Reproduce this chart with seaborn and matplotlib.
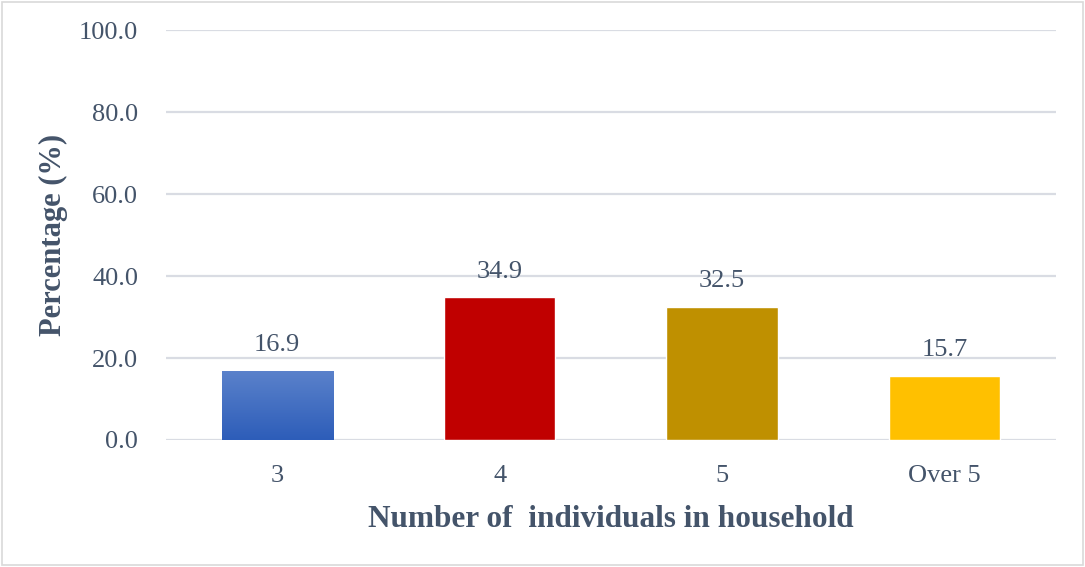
import numpy as np
import pandas as pd
import seaborn as sns
import matplotlib.pyplot as plt
from matplotlib.patches import Rectangle
from matplotlib.colors import LinearSegmentedColormap

# Data
categories = ['3', '4', '5', 'Over 5']
percentages = [16.9, 34.9, 32.5, 15.7]
bar_colors = ['#3A66C0', '#C00000', '#BF9000', '#FFC000']
y_ticks = [0, 20, 40, 60, 80, 100]

sns.set_theme(style="white")
plt.rcParams['font.family'] = ['Liberation Serif', 'DejaVu Serif']
text_color = '#44546A'

df = pd.DataFrame({'size': categories, 'pct': percentages})

fig = plt.figure(figsize=(10.85, 5.67), dpi=100)
ax = fig.add_axes([0.153, 0.224, 0.82, 0.723])

sns.barplot(data=df, x='size', y='pct', hue='size', palette=bar_colors,
            width=0.5, saturation=1, legend=False, ax=ax, zorder=3)

# gradient fill on the first (blue) bar
first = ax.patches[0]
grad = np.linspace(0, 1, 256).reshape(-1, 1)
cmap = LinearSegmentedColormap.from_list('blu', ['#2D5DB9', '#5B82CB'])
x0, y0 = first.get_x(), first.get_y()
w, h = first.get_width(), first.get_height()
img = ax.imshow(grad, extent=[x0, x0 + w, y0, y0 + h], origin='lower',
                cmap=cmap, aspect='auto', zorder=4)
img.set_clip_path(first)
ax.set_xlim(-0.5, 3.5)

ax.set_ylim(0, 100)
ax.set_yticks(y_ticks)
ax.set_yticklabels([f'{v:.1f}' for v in y_ticks])
ax.yaxis.grid(True, color='#D9DCE3', linewidth=1.6, zorder=0)
for s in ax.spines.values():
    s.set_visible(False)
ax.tick_params(axis='both', length=0, labelsize=19, labelcolor=text_color)
ax.tick_params(axis='x', pad=18)
ax.tick_params(axis='y', pad=20)

for p, v in zip(ax.patches, percentages):
    ax.text(p.get_x() + p.get_width() / 2, v + 3.5, f'{v:.1f}',
            ha='center', va='bottom', fontsize=19, color=text_color, zorder=5)

ax.set_xlabel('Number of  individuals in household', fontsize=22.5,
              fontweight='bold', color=text_color, labelpad=13)
ax.set_ylabel('Percentage (%)', fontsize=22, fontweight='bold',
              color=text_color, labelpad=8)

fig.patches.append(Rectangle((0.002, 0.003), 0.996, 0.994, transform=fig.transFigure,
                             fill=False, edgecolor='#D9D9D9', linewidth=1.2))

fig.savefig('out.png', dpi=100)
